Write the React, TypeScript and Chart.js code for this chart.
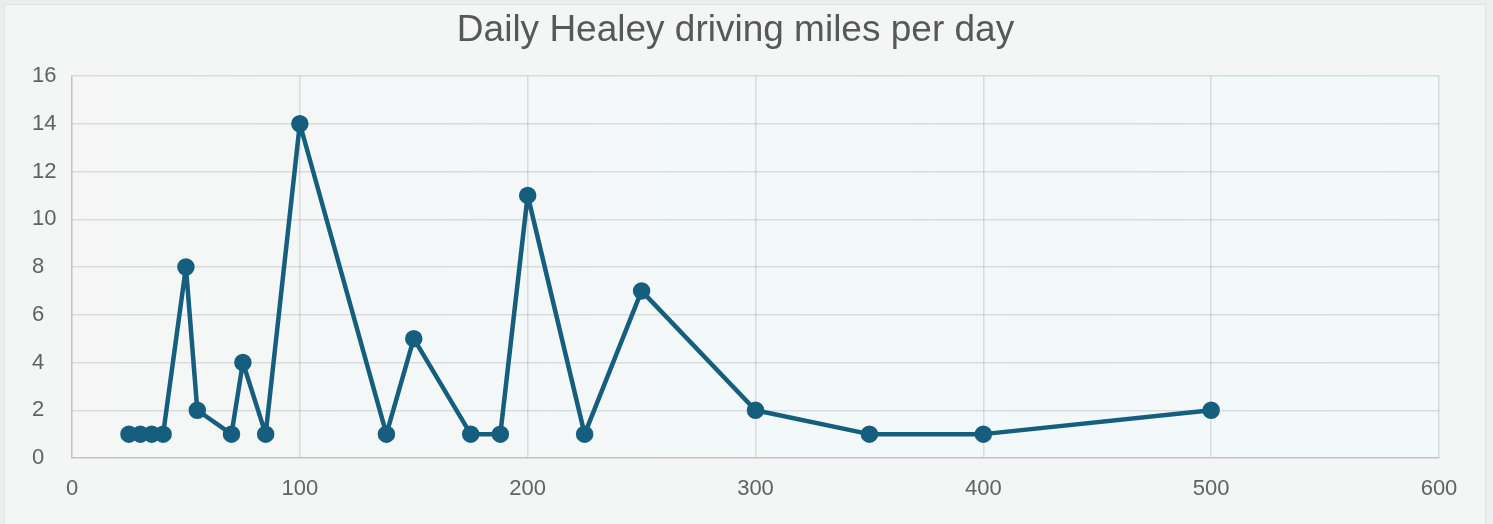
import React, { useEffect, useRef } from "react";
import { Chart, registerables } from "chart.js";

Chart.register(...registerables);

const titleText = "Daily Healey driving miles per day";
const xValues = [25, 30, 35, 40, 50, 55, 70, 75, 85, 100, 138, 150, 175, 188, 200, 225, 250, 300, 350, 400, 500];
const yValues = [1, 1, 1, 1, 8, 2, 1, 4, 1, 14, 1, 5, 1, 1, 11, 1, 7, 2, 1, 1, 2];
const xRange = [0, 600];
const yRange = [0, 16];
const xStep = 100;
const yStep = 2;

const areaBg = {
  id: "areaBg",
  beforeDraw(chart: any) {
    const { ctx, chartArea } = chart;
    if (!chartArea) return;
    const g = ctx.createLinearGradient(chartArea.left, 0, chartArea.right, 0);
    g.addColorStop(0, "rgba(245,246,245,1)");
    g.addColorStop(0.45, "rgba(243,248,249,1)");
    g.addColorStop(1, "rgba(242,249,250,1)");
    ctx.save();
    ctx.fillStyle = g;
    ctx.fillRect(chartArea.left, chartArea.top, chartArea.right - chartArea.left, chartArea.bottom - chartArea.top);
    ctx.restore();
  },
};

const fontFamily = "'Liberation Sans', Arial, sans-serif";

export default function App() {
  const ref = useRef<HTMLCanvasElement | null>(null);
  useEffect(() => {
    document.body.style.margin = "0";
    const canvas = ref.current;
    if (!canvas) return;
    const data = xValues.map((x, i) => ({ x, y: yValues[i] }));
    const chart = new Chart(canvas, {
      type: "line",
      data: {
        datasets: [
          {
            data,
            borderColor: "#165e7e",
            backgroundColor: "#165e7e",
            pointBackgroundColor: "#165e7e",
            pointBorderColor: "#165e7e",
            borderWidth: 4.5,
            borderJoinStyle: "round",
            borderCapStyle: "round",
            pointRadius: 6.5,
            tension: 0,
            fill: false,
          },
        ],
      },
      options: {
        animation: false,
        responsive: false,
        maintainAspectRatio: false,
        layout: { padding: { left: 32, right: 54, top: 0, bottom: 0 } },
        plugins: {
          legend: { display: false },
          tooltip: { enabled: false },
          title: {
            display: true,
            text: titleText,
            color: "#585858",
            font: { family: fontFamily, size: 37, weight: "normal" as any, lineHeight: 1.2 },
            padding: { top: 9, bottom: 22.6 },
          },
        },
        scales: {
          x: {
            type: "linear",
            min: xRange[0],
            max: xRange[1],
            ticks: {
              stepSize: xStep,
              color: "#626262",
              padding: 18,
              maxRotation: 0,
              font: { family: fontFamily, size: 22 },
            },
            grid: { color: "rgba(0,0,0,0.11)", lineWidth: 1.5, drawTicks: false },
            border: { color: "rgba(0,0,0,0.11)", width: 1.5 },
            afterFit(scale: any) {
              scale.height = 66;
            },
          },
          y: {
            type: "linear",
            min: yRange[0],
            max: yRange[1],
            ticks: {
              stepSize: yStep,
              color: "#626262",
              crossAlign: "far",
              padding: 10,
              font: { family: fontFamily, size: 22 },
            },
            grid: { color: "rgba(0,0,0,0.11)", lineWidth: 1.5, drawTicks: false },
            border: { color: "rgba(0,0,0,0.11)", width: 1.5 },
            afterFit(scale: any) {
              scale.width = 40;
            },
          },
        },
      },
      plugins: [areaBg],
    });
    return () => chart.destroy();
  }, []);

  return (
    <div style={{ position: "relative", width: 1493, height: 524, background: "#eceeed" }}>
      <div
        style={{
          position: "absolute",
          left: 4,
          top: 4,
          width: 1482,
          height: 524,
          background: "#f4f5f5",
          border: "1px solid #e2e4e3",
          boxSizing: "border-box",
        }}
      />
      <canvas ref={ref} width={1493} height={524} style={{ position: "absolute", left: 0, top: 0, width: 1493, height: 524 }} />
    </div>
  );
}
